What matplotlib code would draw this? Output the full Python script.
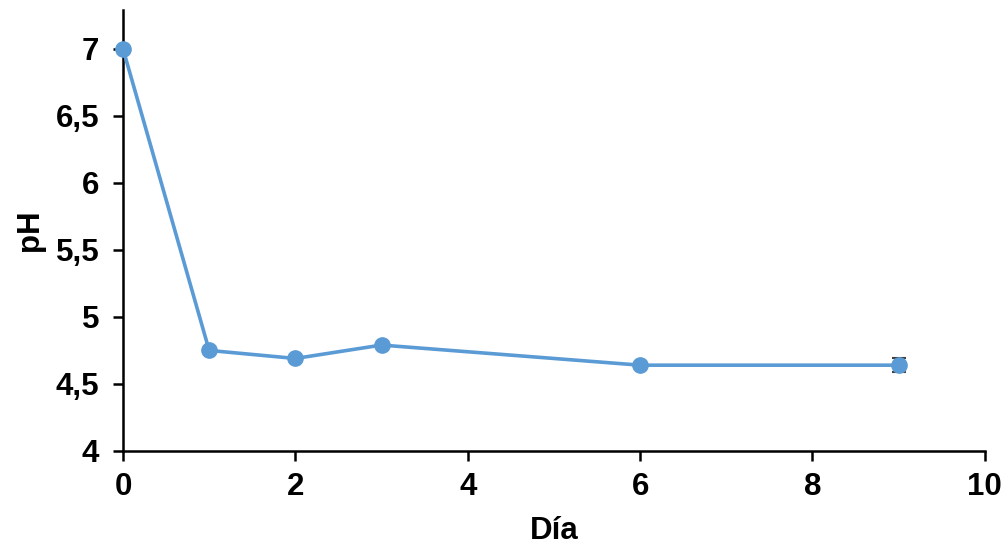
import matplotlib
matplotlib.use("Agg")
import matplotlib.pyplot as plt
from matplotlib.ticker import FuncFormatter

# data
dia = [0, 1, 2, 3, 6, 9]
ph = [7.0, 4.75, 4.69, 4.79, 4.64, 4.64]
err = [0.0, 0.02, 0.0, 0.0, 0.0, 0.05]

plt.rcParams['font.family'] = ['Liberation Sans', 'DejaVu Sans']
plt.rcParams['font.weight'] = 'bold'

fig = plt.figure(figsize=(10.08, 5.46), dpi=100)
ax = fig.add_axes([0.122, 0.174, 0.855, 0.808])

ax.errorbar(dia, ph, yerr=err, color='#5B9BD5', lw=2.6, marker='o', ms=11,
            ecolor='#404040', elinewidth=1.2, capsize=5, capthick=1.5,
            zorder=3, clip_on=False)

ax.set_xlim(0, 10)
ax.set_ylim(4, 7.29)
ax.set_xticks([0, 2, 4, 6, 8, 10])
ax.set_yticks([4, 4.5, 5, 5.5, 6, 6.5, 7])
ax.yaxis.set_major_formatter(FuncFormatter(lambda v, p: ('%g' % v).replace('.', ',')))

for s in ['top', 'right']:
    ax.spines[s].set_visible(False)
for s in ['left', 'bottom']:
    ax.spines[s].set_linewidth(1.8)
    ax.spines[s].set_color('black')

ax.tick_params(axis='both', direction='out', length=7, width=1.8, labelsize=22.5)
ax.tick_params(axis='x', pad=8)
ax.tick_params(axis='y', pad=10)
for lab in ax.get_xticklabels() + ax.get_yticklabels():
    lab.set_fontweight('bold')

ax.set_xlabel('Día', fontsize=22.5, fontweight='bold', labelpad=10)
ax.set_ylabel('pH', fontsize=22.5, fontweight='bold', labelpad=8)

fig.savefig('out.png', dpi=100)
